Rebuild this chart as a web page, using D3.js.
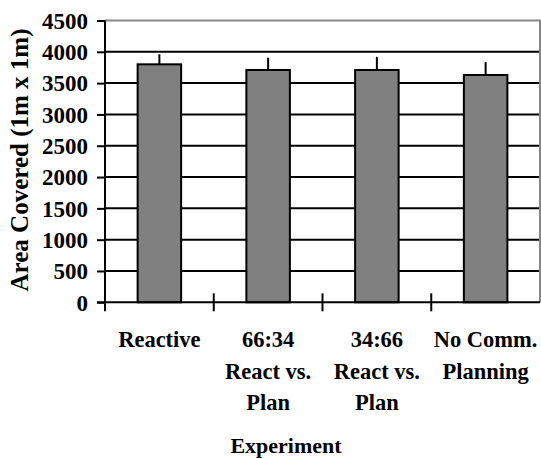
<!DOCTYPE html>
<html>
<head>
<meta charset="utf-8">
<script src="https://cdn.jsdelivr.net/npm/d3@7"></script>
<style>
  body { margin: 0; background: #fff; }
  svg text { font-family: "Liberation Serif", "Times New Roman", serif; font-weight: bold; fill: #000; }
</style>
</head>
<body>
<svg id="chart" width="541" height="459"></svg>
<script>
// chart data
var categories = [
  ["Reactive"],
  ["66:34", "React vs.", "Plan"],
  ["34:66", "React vs.", "Plan"],
  ["No Comm.", "Planning"]
];
var areaCovered = [3800, 3710, 3710, 3630];
var errorPlus = [160, 195, 210, 205];
var yTicks = [0, 500, 1000, 1500, 2000, 2500, 3000, 3500, 4000, 4500];

var svg = d3.select("#chart");
var plotLeft = 105, plotRight = 540, plotTop = 20.5, plotBottom = 302.3;

var x = d3.scaleBand()
  .domain(d3.range(categories.length))
  .range([plotLeft, plotRight])
  .paddingInner(0.6)
  .paddingOuter(0.3);
var xb = d3.scaleBand().domain(d3.range(categories.length)).range([plotLeft, plotRight]);
var y = d3.scaleLinear().domain([0, 4500]).range([plotBottom, plotTop]);

// gridlines
svg.append("g").selectAll("line")
  .data(yTicks.filter(function(d) { return d > 0 && d < 4500; }))
  .enter().append("line")
  .attr("x1", plotLeft).attr("x2", plotRight)
  .attr("y1", function(d) { return y(d); }).attr("y2", function(d) { return y(d); })
  .attr("stroke", "#000").attr("stroke-width", 2);

// plot border (top and right)
svg.append("path")
  .attr("d", "M" + plotLeft + "," + y(4500) + "H" + plotRight + "V" + plotBottom)
  .attr("fill", "none").attr("stroke", "#888").attr("stroke-width", 2);

// error bars
svg.append("g").selectAll("line")
  .data(areaCovered)
  .enter().append("line")
  .attr("x1", function(d, i) { return x(i) + x.bandwidth() / 2; })
  .attr("x2", function(d, i) { return x(i) + x.bandwidth() / 2; })
  .attr("y1", function(d) { return y(d); })
  .attr("y2", function(d, i) { return y(d + errorPlus[i]); })
  .attr("stroke", "#000").attr("stroke-width", 2);

// bars
svg.append("g").selectAll("rect")
  .data(areaCovered)
  .enter().append("rect")
  .attr("x", function(d, i) { return x(i); })
  .attr("y", function(d) { return y(d); })
  .attr("width", x.bandwidth())
  .attr("height", function(d) { return plotBottom - y(d); })
  .attr("fill", "#808080").attr("stroke", "#000").attr("stroke-width", 2);

// y axis
var yAxis = d3.axisLeft(y).tickValues(yTicks).tickFormat(d3.format("d"))
  .tickSize(8).tickPadding(9);
var gy = svg.append("g").attr("transform", "translate(" + plotLeft + ",0)").call(yAxis);
gy.select(".domain").remove();
gy.append("line").attr("x1", 0).attr("x2", 0).attr("y1", y(4500)).attr("y2", plotBottom + 9)
  .attr("stroke", "#000").attr("stroke-width", 2);
gy.selectAll(".tick line").attr("stroke", "#000").attr("stroke-width", 2);
gy.selectAll(".tick text")
  .style("font-size", "23px").style("font-family", "Liberation Serif, serif")
  .style("font-weight", "bold").attr("dy", "0.34em");

// x axis line
svg.append("line")
  .attr("x1", plotLeft - 8).attr("x2", plotRight)
  .attr("y1", plotBottom).attr("y2", plotBottom)
  .attr("stroke", "#000").attr("stroke-width", 2);

// category boundary ticks
svg.append("g").selectAll("line")
  .data(d3.range(1, categories.length))
  .enter().append("line")
  .attr("x1", function(i) { return xb(i); }).attr("x2", function(i) { return xb(i); })
  .attr("y1", plotBottom - 9).attr("y2", plotBottom + 9)
  .attr("stroke", "#000").attr("stroke-width", 2);

// category labels
var cl = svg.append("g").selectAll("text")
  .data(categories)
  .enter().append("text")
  .attr("text-anchor", "middle")
  .attr("x", function(d, i) { return x(i) + x.bandwidth() / 2; })
  .attr("y", 347)
  .style("font-size", "22.5px");
cl.selectAll("tspan")
  .data(function(d) { return d; })
  .enter().append("tspan")
  .attr("x", function() { return d3.select(this.parentNode).attr("x"); })
  .attr("dy", function(d, j) { return j === 0 ? 0 : 31.5; })
  .text(function(d) { return d; });

// axis titles
svg.append("text")
  .attr("x", 286).attr("y", 453)
  .attr("text-anchor", "middle")
  .style("font-size", "22px")
  .text("Experiment");

svg.append("text")
  .attr("transform", "translate(28,160) rotate(-90)")
  .attr("text-anchor", "middle")
  .style("font-size", "25px")
  .text("Area Covered (1m x 1m)");
</script>
</body>
</html>
